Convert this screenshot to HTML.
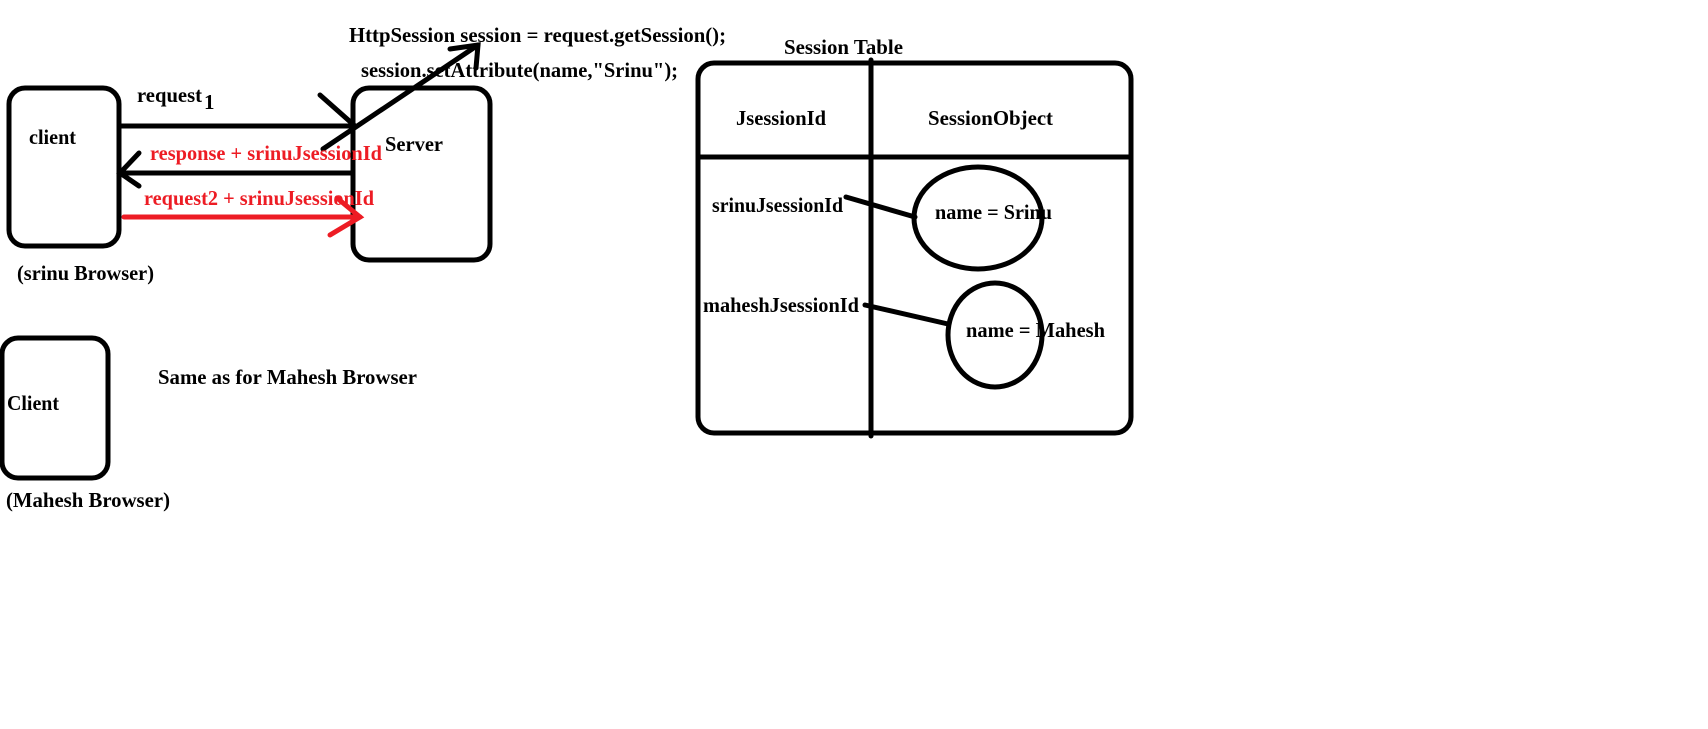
<!DOCTYPE html>
<html><head><meta charset="utf-8"><style>
html,body{margin:0;padding:0;background:#fff;width:1708px;height:729px;overflow:hidden}
text{font-family:"Liberation Serif",serif;font-weight:bold;font-size:21px;fill:#000}
.r{fill:#ed1c24}
</style></head><body>
<svg width="1708" height="729" viewBox="0 0 1708 729" xmlns="http://www.w3.org/2000/svg">
<g fill="none" stroke="#000" stroke-width="5" stroke-linecap="round">
<rect x="9" y="88" width="110" height="158" rx="16"/>
<rect x="353" y="88" width="137" height="172" rx="16"/>
<rect x="2" y="338" width="106" height="140" rx="16"/>
<line x1="119" y1="126" x2="353" y2="126"/>
<line x1="320" y1="95" x2="355" y2="126"/>
<line x1="323" y1="149" x2="478" y2="45"/>
<polyline points="450,49 478,45 476,68"/>
<line x1="120" y1="173" x2="353" y2="173"/>
<polyline points="139,153 120,173 139,186"/>
<rect x="698" y="63" width="433" height="370" rx="16"/>
<line x1="871" y1="60" x2="871" y2="436"/>
<line x1="698" y1="157" x2="1131" y2="157"/>
<ellipse cx="978" cy="218" rx="64" ry="51"/>
<ellipse cx="995" cy="335" rx="47" ry="52"/>
<line x1="846" y1="197" x2="915" y2="217"/>
<line x1="865" y1="305" x2="948" y2="324"/>
</g>
<g fill="none" stroke="#ed1c24" stroke-width="5" stroke-linecap="round">
<line x1="124" y1="217" x2="360" y2="217"/>
<polyline points="337,198 360,217 330,235"/>
</g>
<text x="349" y="42" textLength="377" lengthAdjust="spacingAndGlyphs">HttpSession session = request.getSession();</text>
<text x="361" y="77" textLength="317" lengthAdjust="spacingAndGlyphs">session.setAttribute(name,"Srinu");</text>
<text x="137" y="102" textLength="65" lengthAdjust="spacingAndGlyphs">request</text>
<text x="204" y="109">1</text>
<text x="29" y="144" textLength="47" lengthAdjust="spacingAndGlyphs">client</text>
<text x="385" y="151" textLength="58" lengthAdjust="spacingAndGlyphs">Server</text>
<text class="r" x="150" y="160" textLength="232" lengthAdjust="spacingAndGlyphs">response + srinuJsessionId</text>
<text class="r" x="144" y="205" textLength="230" lengthAdjust="spacingAndGlyphs">request2 + srinuJsessionId</text>
<text x="17" y="280" textLength="137" lengthAdjust="spacingAndGlyphs">(srinu Browser)</text>
<text x="7" y="410" textLength="52" lengthAdjust="spacingAndGlyphs">Client</text>
<text x="158" y="384" textLength="259" lengthAdjust="spacingAndGlyphs">Same as for Mahesh Browser</text>
<text x="6" y="507" textLength="164" lengthAdjust="spacingAndGlyphs">(Mahesh Browser)</text>
<text x="784" y="54" textLength="119" lengthAdjust="spacingAndGlyphs">Session Table</text>
<text x="736" y="125" textLength="90" lengthAdjust="spacingAndGlyphs">JsessionId</text>
<text x="928" y="125" textLength="125" lengthAdjust="spacingAndGlyphs">SessionObject</text>
<text x="712" y="212" textLength="131" lengthAdjust="spacingAndGlyphs">srinuJsessionId</text>
<text x="935" y="219" textLength="117" lengthAdjust="spacingAndGlyphs">name = Srinu</text>
<text x="703" y="312" textLength="156" lengthAdjust="spacingAndGlyphs">maheshJsessionId</text>
<text x="966" y="337" textLength="139" lengthAdjust="spacingAndGlyphs">name = Mahesh</text>
</svg>
</body></html>
